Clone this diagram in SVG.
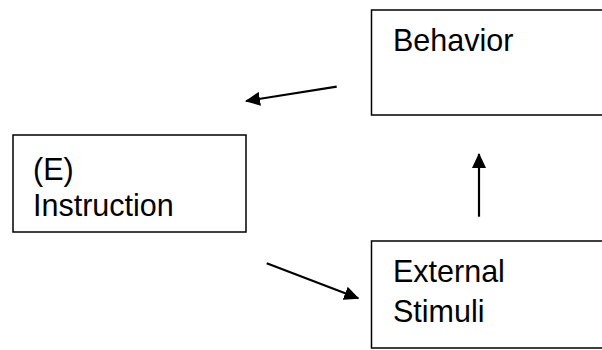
<svg xmlns="http://www.w3.org/2000/svg" width="602" height="350" viewBox="0 0 602 350">
<defs>
<style>
.box{fill:#fff;stroke:#000;stroke-width:1.5}
.t{font-family:"Liberation Sans",Arial,sans-serif;font-size:30.5px;fill:#000}
.c{stroke:#000;stroke-width:2.2;fill:none;marker-end:url(#ah)}
</style>
<marker id="ah" viewBox="0 0 15 14" refX="14" refY="7" markerWidth="15" markerHeight="14" markerUnits="userSpaceOnUse" orient="auto">
<path d="M0,0 L15,7 L0,14 z" fill="#000"/>
</marker>
</defs>
<rect width="602" height="350" fill="#fff"/>
<g id="behavior">
<rect class="box" x="371.5" y="10" width="240" height="105"/>
<text class="t" x="393" y="51">Behavior</text>
</g>
<g id="instruction">
<rect class="box" x="13" y="135" width="233" height="97"/>
<text class="t" x="33" y="180">(E)</text>
<text class="t" x="33" y="216">Instruction</text>
</g>
<g id="external">
<rect class="box" x="371.5" y="241" width="240" height="107"/>
<text class="t" x="393" y="282">External</text>
<text class="t" x="393" y="322">Stimuli</text>
</g>
<g id="connectors">
<line class="c" x1="336.7" y1="86.7" x2="246" y2="101"/>
<line class="c" x1="479" y1="216.7" x2="479" y2="154"/>
<line class="c" x1="266.7" y1="263.3" x2="358.3" y2="298.3"/>
</g>
</svg>
